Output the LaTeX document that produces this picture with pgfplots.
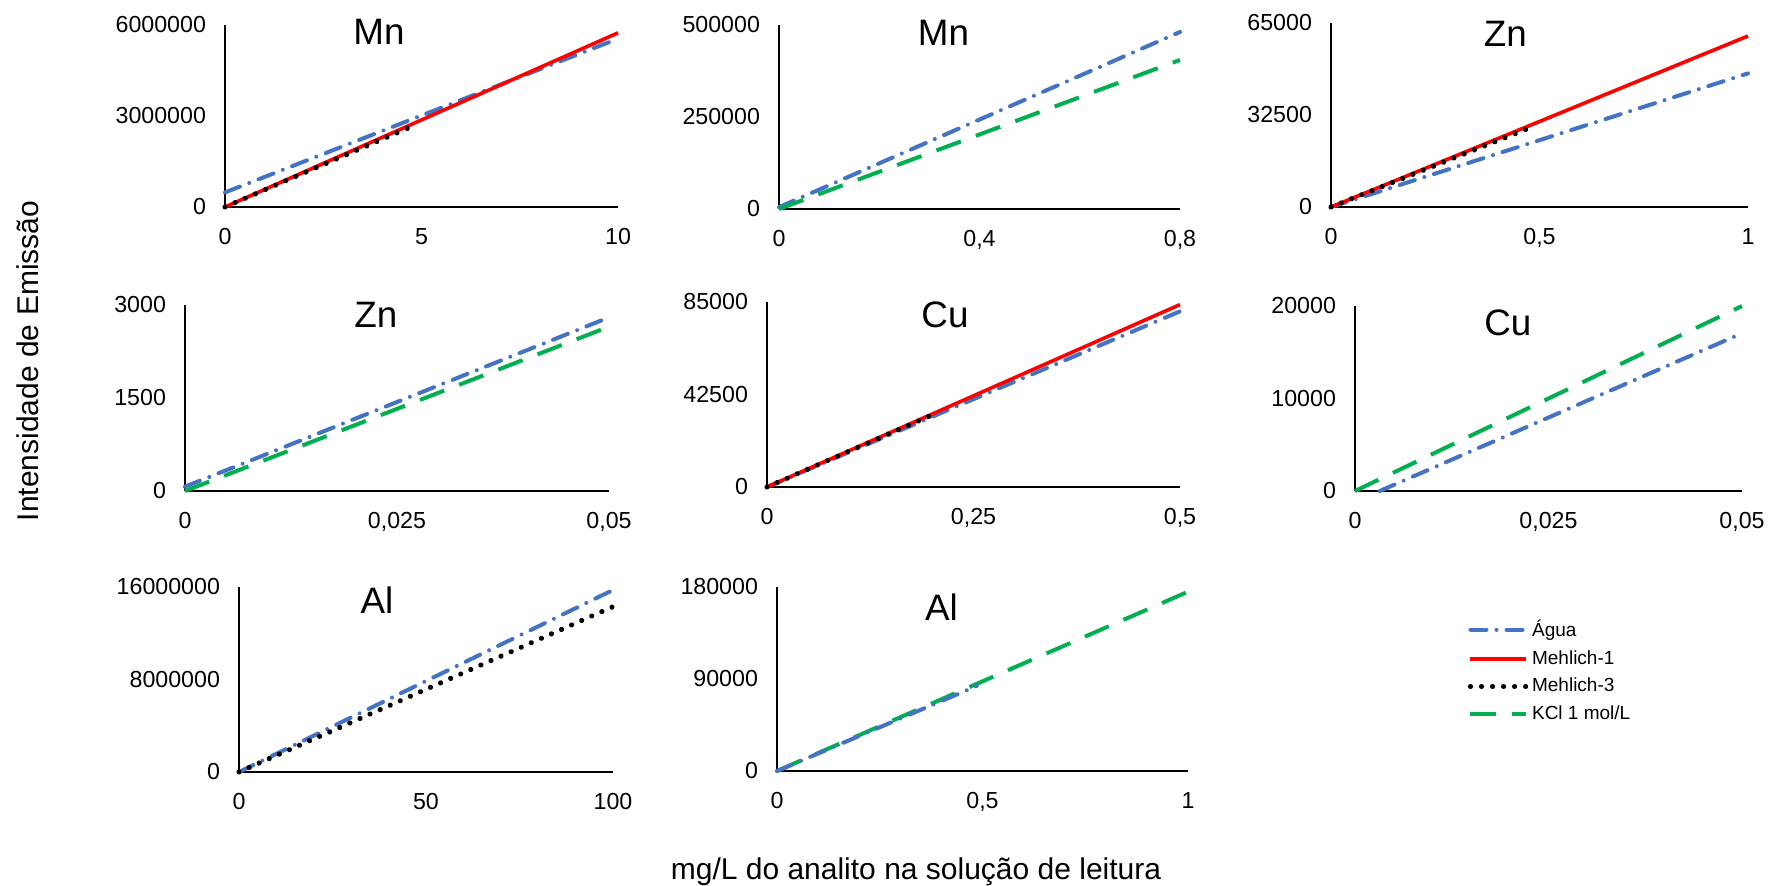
\documentclass[border=0pt]{standalone}
\usepackage{pgfplots}
\pgfplotsset{compat=1.18}
\usepackage{fontspec}
\setmainfont{Liberation Sans}
\definecolor{agua}{HTML}{4472C4}
\definecolor{mone}{HTML}{FF0000}
\definecolor{kcl}{HTML}{00B050}
\pgfplotsset{
  panel/.style={scale only axis, anchor=south west,
    axis x line=bottom, axis y line=left,
    axis line style={-, black, line width=0.9pt},
    major tick length=0pt, tick style={draw=none},
    scaled ticks=false,
    enlargelimits=false, clip=false, xmin=0, ymin=0,
    ticklabel style={font=\fontsize{11.6}{13}\selectfont},
    xticklabel style={yshift=-7pt},
    yticklabel style={xshift=-6pt}},
  sagua/.style={color=agua, line width=2pt, line cap=round, dash pattern=on 8pt off 5pt on 0.01pt off 5pt},
  smone/.style={color=mone, line width=1.8pt},
  smthree/.style={color=black, line width=2.6pt, line cap=round, dash pattern=on 0.01pt off 5.5pt},
  skcl/.style={color=kcl, line width=2pt, dash pattern=on 13pt off 8pt},
}
\newcommand{\ttl}[3]{\node[font=\fontsize{18.4}{20}\selectfont] at (rel axis cs:#1,#2) {#3};}
\begin{document}
\begin{tikzpicture}
\useasboundingbox (0,0) rectangle (886.5pt,442.5pt);
% Panel 1 Mn
\begin{axis}[panel, at={(112.5pt,339pt)}, width=196.5pt, height=91pt,
  xmax=10, ymax=6000000, xtick={0,5,10}, xticklabels={0,5,10},
  ytick={0,3000000,6000000}, yticklabels={0,3000000,6000000}]
\addplot[sagua] coordinates {(0,480000) (10,5550000)};
\addplot[smone] coordinates {(0,0) (10,5740000)};
\addplot[smthree] coordinates {(0,0) (4.8,2680000)};
\ttl{0.392}{0.96}{Mn}
\end{axis}
% Panel 2 Mn
\begin{axis}[panel, at={(389.5pt,338pt)}, width=200.5pt, height=92pt,
  xmax=0.8, ymax=500000, xtick={0,0.4,0.8}, xticklabels={0,{0,4},{0,8}},
  ytick={0,250000,500000}, yticklabels={0,250000,500000}]
\addplot[sagua] coordinates {(0,5000) (0.8,481000)};
\addplot[skcl] coordinates {(0,0) (0.8,405000)};
\ttl{0.41}{0.96}{Mn}
\end{axis}
% Panel 3 Zn
\begin{axis}[panel, at={(665.5pt,339pt)}, width=208.5pt, height=92pt,
  xmax=1, ymax=65000, xtick={0,0.5,1}, xticklabels={0,{0,5},1},
  ytick={0,32500,65000}, yticklabels={0,32500,65000}]
\addplot[sagua] coordinates {(0,0) (1,47200)};
\addplot[smone] coordinates {(0,0) (1,60400)};
\addplot[smthree] coordinates {(0,0) (0.48,28150)};
\ttl{0.418}{0.94}{Zn}
\end{axis}
% Panel 4 Zn
\begin{axis}[panel, at={(92.5pt,197pt)}, width=212pt, height=93pt,
  xmax=0.05, ymax=3000, xtick={0,0.025,0.05}, xticklabels={0,{0,025},{0,05}},
  ytick={0,1500,3000}, yticklabels={0,1500,3000}]
\addplot[sagua] coordinates {(0,70) (0.05,2800)};
\addplot[skcl] coordinates {(0,0) (0.05,2650)};
\ttl{0.45}{0.946}{Zn}
\end{axis}
% Panel 5 Cu
\begin{axis}[panel, at={(383.5pt,199pt)}, width=206.5pt, height=92.5pt,
  xmax=0.5, ymax=85000, xtick={0,0.25,0.5}, xticklabels={0,{0,25},{0,5}},
  ytick={0,42500,85000}, yticklabels={0,42500,85000}]
\addplot[sagua] coordinates {(0,0) (0.5,80700)};
\addplot[smone] coordinates {(0,0) (0.5,83800)};
\addplot[smthree] coordinates {(0,0) (0.2,33100)};
\ttl{0.431}{0.93}{Cu}
\end{axis}
% Panel 6 Cu
\begin{axis}[panel, at={(677.5pt,197pt)}, width=193.5pt, height=92.5pt,
  xmax=0.05, ymax=20000, xtick={0,0.025,0.05}, xticklabels={0,{0,025},{0,05}},
  ytick={0,10000,20000}, yticklabels={0,10000,20000}]
\addplot[sagua] coordinates {(0.0032,0) (0.05,17050)};
\addplot[skcl] coordinates {(0,0) (0.05,20000)};
\ttl{0.395}{0.91}{Cu}
\end{axis}
% Panel 7 Al
\begin{axis}[panel, at={(119.5pt,56.5pt)}, width=187pt, height=92.5pt,
  xmax=100, ymax=16000000, xtick={0,50,100}, xticklabels={0,50,100},
  ytick={0,8000000,16000000}, yticklabels={0,8000000,16000000}]
\addplot[sagua] coordinates {(0,0) (100,15740000)};
\addplot[smthree] coordinates {(0,0) (100,14300000)};
\ttl{0.369}{0.93}{Al}
\end{axis}
% Panel 8 Al + legend
\begin{axis}[panel, at={(388.5pt,57pt)}, width=205.5pt, height=92pt,
  xmax=1, ymax=180000, xtick={0,0.5,1}, xticklabels={0,{0,5},1},
  ytick={0,90000,180000}, yticklabels={0,90000,180000},
  legend style={at={(axis description cs:1.68,0.84)}, anchor=north west,
    draw=none, fill=none, font=\fontsize{9.5}{11}\selectfont,
    row sep=2.5pt, inner sep=0pt, nodes={inner sep=1.5pt, xshift=2pt}},
  legend cell align=left,
  legend image code/.code={\draw[#1] (0pt,0pt) -- (28pt,0pt);}]
\addlegendimage{sagua}
\addlegendentry{Água}
\addlegendimage{smone}
\addlegendentry{Mehlich-1}
\addlegendimage{smthree}
\addlegendentry{Mehlich-3}
\addlegendimage{skcl}
\addlegendentry{KCl 1 mol/L}
\addplot[skcl, forget plot] coordinates {(0,0) (1,175400)};
\addplot[sagua, forget plot] coordinates {(0,0) (0.486,83150)};
\ttl{0.40}{0.89}{Al}
\end{axis}
\node[font=\fontsize{15}{17}\selectfont, rotate=90] at (14pt,262pt) {Intensidade de Emissão};
\node[font=\fontsize{15}{17}\selectfont] at (458pt,6.5pt) {mg/L do analito na solução de leitura};
\end{tikzpicture}
\end{document}
